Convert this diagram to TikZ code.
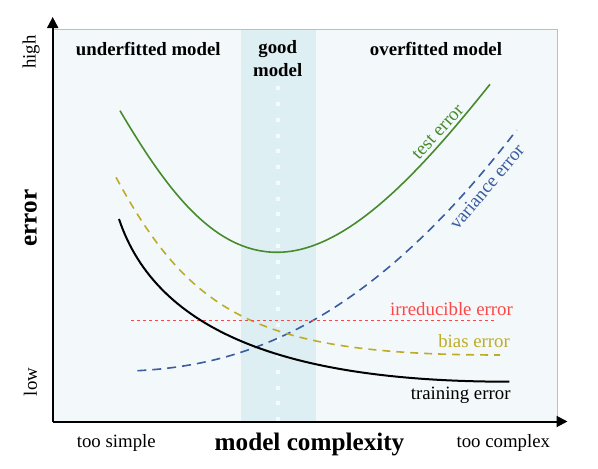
\documentclass[tikz,border=0pt]{standalone}
\usepackage{fontspec}
\setmainfont{Liberation Serif}
\usetikzlibrary{arrows.meta}
\definecolor{panelbg}{RGB}{243,249,251}
\definecolor{bandbg}{RGB}{221,239,243}
\definecolor{testgreen}{RGB}{72,138,44}
\definecolor{varblue}{RGB}{58,92,160}
\definecolor{biasolive}{RGB}{190,172,40}
\definecolor{irred}{RGB}{255,70,70}
\definecolor{bordergray}{RGB}{190,190,190}
\tikzset{
  lab/.style={font=\fontsize{18.8}{22}\selectfont, inner sep=0pt},
  head/.style={font=\fontsize{18.8}{22}\selectfont\bfseries, inner sep=0pt},
  big/.style={font=\fontsize{25.2}{30}\selectfont\bfseries, inner sep=0pt},
  axisline/.style={line width=2pt, -{Triangle[length=11pt,width=11pt]}},
}
\begin{document}
\begin{tikzpicture}[x=1pt,y=-1pt]
\useasboundingbox (0,0) rectangle (598,469);
% panel and band
\fill[panelbg] (53,29) rectangle (557,421.5);
\fill[bandbg] (241,29) rectangle (316,421.5);
\draw[bordergray, line width=0.8pt] (53,29) -- (557,29) -- (557,421.5);
\draw[white, opacity=0.75, line width=4pt, dash pattern=on 4pt off 11.75pt] (277.7,86.3) -- (277.7,421);
% axes
\coordinate (origin) at (52.7,421.5);
\coordinate (ytip) at (52.7,17);
\coordinate (xtip) at (567.5,421.5);
\draw[axisline] (origin) -- (ytip);
\draw[axisline] (origin) -- (xtip);
% curves
\draw[testgreen, line width=1.6pt] (120,110.7) .. controls (165,186.8) and (212,252.3) .. (277,252.3)
      .. controls (347,252.3) and (420,171.8) .. (490,84.3);
\draw[varblue, line width=1.6pt, dash pattern=on 9pt off 6pt] (137.3,370.7) .. controls (250,365) and (370,320.7) .. (516.7,130);
\draw[biasolive, line width=1.6pt, dash pattern=on 8pt off 6pt] (116,177.3) .. controls (191,316) and (260,355) .. (500,355);
\draw[irred, line width=1.1pt, dash pattern=on 3pt off 3pt] (131,320.7) -- (496.7,320.7);
\draw[black, line width=2pt] (119,219) .. controls (157,333) and (289.3,381.7) .. (509.3,381.7);
% curve labels
\node[lab, text=testgreen, rotate=47.7] (ltest) at (438,132) {test error};
\node[lab, text=varblue, rotate=50] (lvar) at (486.7,186.7) {variance error};
\node[lab, text=irred, anchor=base east] (lirr) at (513,315) {irreducible error};
\node[lab, text=biasolive, anchor=base east] (lbias) at (510,347.3) {bias error};
\node[lab, anchor=base east] (ltrain) at (510.7,399) {training error};
% headings
\node[head, anchor=base] (hunder) at (148.3,55.5) {underfitted model};
\node[head, anchor=base] (hgood1) at (277.7,53.3) {good};
\node[head, anchor=base] (hgood2) at (277.7,76.7) {model};
\node[head, anchor=base] (hover) at (436,55.5) {overfitted model};
% axis labels
\node[lab, anchor=base, rotate=90] (lhigh) at (35.5,52) {high};
\node[lab, anchor=base, rotate=90] (llow) at (37,382) {low};
\node[big, anchor=base, rotate=90] (lerr) at (36.5,218) {error};
\node[lab, anchor=base] (lsimple) at (116.3,447.3) {too simple};
\node[lab, anchor=base] (lcomplex) at (503.3,447.3) {too complex};
\node[big, anchor=base] (lmc) at (309.5,450.5) {model complexity};
\end{tikzpicture}
\end{document}
